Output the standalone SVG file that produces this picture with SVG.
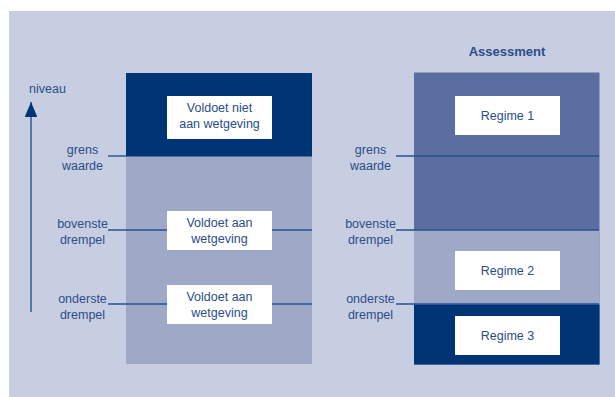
<svg xmlns="http://www.w3.org/2000/svg" width="615" height="397" viewBox="0 0 615 397">
<defs>
<style>
.t{font-family:"Liberation Sans",Arial,sans-serif;font-size:12.5px;fill:#2b4d89;text-anchor:middle}
.b{font-weight:bold}
.box{fill:#ffffff}
.ln{stroke:#27508f;stroke-width:1.4;fill:none}
</style>
<marker id="ah" viewBox="0 0 15 12.6" refX="15" refY="6.3" markerWidth="15" markerHeight="12.6" markerUnits="userSpaceOnUse" orient="auto">
<path d="M0,0 L15,6.3 L0,12.6 Z" fill="#003575"/>
</marker>
</defs>
<rect x="0" y="0" width="615" height="397" fill="#ffffff"/>
<rect x="9" y="11" width="606" height="386" fill="#c8cee2"/>

<g id="left-column">
<rect x="126" y="73" width="186" height="291" fill="#9ea9c8"/>
<rect x="126" y="73" width="186" height="83.5" fill="#003575"/>
</g>
<g id="right-column">
<rect x="414" y="72.5" width="185.5" height="292" fill="#5a6fa0"/>
<rect x="414" y="230" width="185.5" height="74.5" fill="#9ea9c8"/>
<rect x="414" y="304.5" width="185.5" height="60" fill="#003575"/>
</g>

<g id="connectors">
<line class="ln" x1="31" y1="312" x2="31" y2="102" marker-end="url(#ah)" stroke="#2b5591"/>
<line class="ln" x1="108" y1="156" x2="126" y2="156"/>
<line class="ln" x1="108" y1="230" x2="312" y2="230"/>
<line class="ln" x1="108" y1="304" x2="312" y2="304"/>
<line class="ln" x1="396" y1="156" x2="599" y2="156"/>
<line class="ln" x1="396" y1="230" x2="599" y2="230"/>
<line class="ln" x1="396" y1="304" x2="599" y2="304"/>
</g>

<g id="axis-labels">
<text class="t" x="47.5" y="92.5">niveau</text>
<text class="t" x="82.5" y="154">grens</text>
<text class="t" x="82.5" y="170">waarde</text>
<text class="t" x="82.5" y="228">bovenste</text>
<text class="t" x="82.5" y="243.5">drempel</text>
<text class="t" x="82.5" y="302.5">onderste</text>
<text class="t" x="82.5" y="319">drempel</text>
<text class="t" x="370.5" y="153.5">grens</text>
<text class="t" x="370.5" y="169.5">waarde</text>
<text class="t" x="370.5" y="228">bovenste</text>
<text class="t" x="370.5" y="243.5">drempel</text>
<text class="t" x="370.5" y="302.5">onderste</text>
<text class="t" x="370.5" y="319">drempel</text>
</g>

<g id="title">
<text class="t b" x="507" y="56" style="font-size:13px">Assessment</text>
</g>

<g id="node-voldoet-niet">
<rect class="box" x="167" y="96" width="105" height="43"/>
<text class="t" x="219.5" y="112">Voldoet niet</text>
<text class="t" x="219.5" y="128">aan wetgeving</text>
</g>
<g id="node-voldoet-1">
<rect class="box" x="167" y="211" width="105" height="39"/>
<text class="t" x="219.5" y="227">Voldoet aan</text>
<text class="t" x="219.5" y="243">wetgeving</text>
</g>
<g id="node-voldoet-2">
<rect class="box" x="167" y="285" width="105" height="39"/>
<text class="t" x="219.5" y="300.5">Voldoet aan</text>
<text class="t" x="219.5" y="317">wetgeving</text>
</g>
<g id="node-regime-1">
<rect class="box" x="455" y="96" width="105" height="39"/>
<text class="t" x="507.5" y="119.5">Regime 1</text>
</g>
<g id="node-regime-2">
<rect class="box" x="455" y="251" width="105" height="39"/>
<text class="t" x="507.5" y="274.5">Regime 2</text>
</g>
<g id="node-regime-3">
<rect class="box" x="455" y="316" width="105" height="39"/>
<text class="t" x="507.5" y="339.5">Regime 3</text>
</g>
</svg>
